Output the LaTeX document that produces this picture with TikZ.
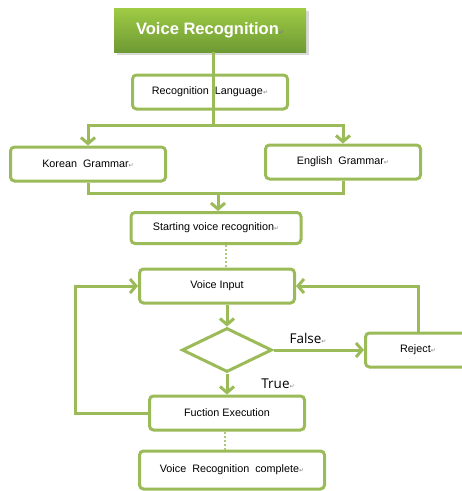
\documentclass[tikz,border=0pt]{standalone}
\usepackage{fontspec}
\setmainfont{Liberation Sans}
\newfontfamily\labelfont{Open Sans}
\newfontfamily\markfont{DejaVu Sans}
\usetikzlibrary{arrows.meta,shapes.geometric,shadows}
\definecolor{leafgreen}{HTML}{9BBB59}
\definecolor{titletop}{HTML}{9FCB45}
\definecolor{titlebot}{HTML}{6E9A34}
\newcommand{\pmark}{{\markfont\fontsize{6}{6}\selectfont\color{gray}↵}}

\begin{document}
\begin{tikzpicture}[x=1pt,y=-1pt,
  box node/.style={draw=leafgreen,line width=3pt,rounded corners=4pt,fill=white,minimum height=34pt,inner sep=2pt,font=\fontsize{10.8}{12}\selectfont},
  title node/.style={top color=titletop,bottom color=titlebot,draw=none,drop shadow={opacity=0.3},minimum width=192pt,minimum height=44pt,text=white,font=\fontsize{16.5}{18}\selectfont\bfseries},
  decision node/.style={diamond,draw=leafgreen,line width=3pt,fill=white,minimum width=90pt,minimum height=44pt,inner sep=0pt},
  flow/.style={draw=leafgreen,line width=3pt,-{Straight Barb[length=6pt,width=14pt]}},
  link/.style={draw=leafgreen,line width=3pt},
  dots/.style={draw=leafgreen!80,line width=2.5pt,dash pattern=on 2pt off 2pt}]
  \useasboundingbox (0,0) rectangle (462,491);

  \node[title node] (title) at (210,30) {Voice Recognition\pmark};
  \node[box node,minimum width=155pt] (lang) at (210,92) {Recognition\ \ Language\pmark};
  \node[box node,minimum width=155pt] (korean) at (88,164) {Korean\ \ Grammar\pmark};
  \node[box node,minimum width=155pt] (english) at (343,162) {English\ \ Grammar\pmark};
  \node[box node,minimum width=170pt,minimum height=31pt] (start) at (216,228) {Starting voice recognition\pmark};
  \node[box node,minimum width=155pt] (input) at (217,286) {Voice Input};
  \node[decision node] (check) at (227,350) {};
  \node[box node,minimum width=105pt] (reject) at (418,350) {Reject\pmark};
  \node[box node,minimum width=155pt] (exec) at (227,413) {Fuction Execution};
  \node[box node,minimum width=185pt,minimum height=38pt] (done) at (232,470) {Voice\ \ Recognition\ \ complete\pmark};

  \node[font=\labelfont\fontsize{13.5}{15}\selectfont] (false) at (308,338) {False\pmark};
  \node[font=\labelfont\fontsize{13.5}{15}\selectfont] (true) at (278,384) {True\pmark};

  \coordinate (split) at (213,125);
  \coordinate (merge) at (218,193);

  \draw[link] (title.south -| split) -- (split);
  \draw[link] (lang.south -| split) -- (split);
  \draw[flow] (split) -| (korean);
  \draw[flow] (split) -| (english);
  \draw[link] (korean.south) |- (merge) -| (english.south);
  \draw[flow] (merge) -- (merge |- start.north);
  \draw[dots] (start.south -| 226,0) -- (input.north -| 226,0);
  \draw[flow] (input.south -| check.north) -- (check.north);
  \draw[flow] (check.east) -- (reject.west);
  \draw[flow] (reject.north) |- (input.east);
  \draw[flow] (check.south) -- (exec.north);
  \draw[flow] (exec.west) -- ++(-73,0) |- (input.west);
  \draw[dots] (exec.south -| 225,0) -- (done.north -| 225,0);
\end{tikzpicture}
\end{document}
